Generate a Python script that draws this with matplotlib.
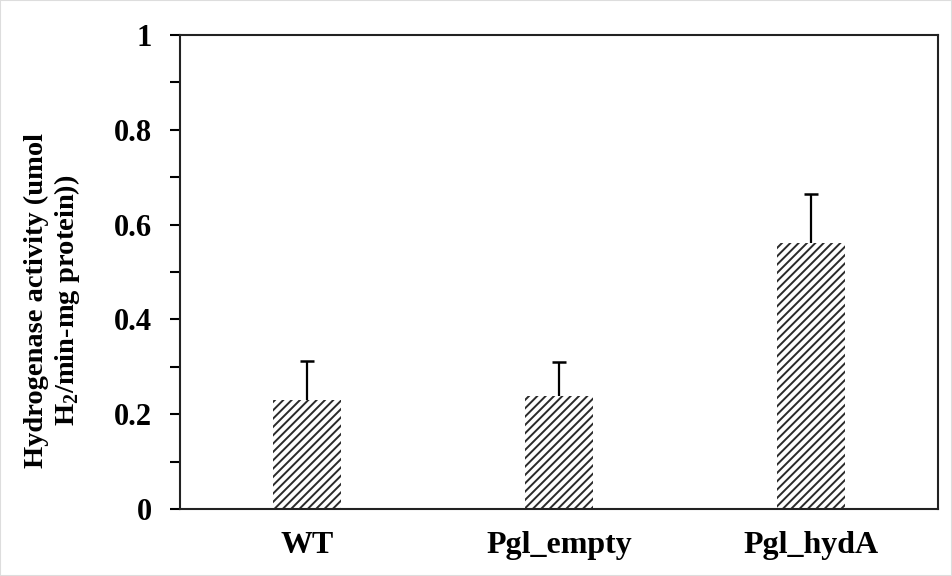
import numpy as np
import matplotlib
matplotlib.use("Agg")
import matplotlib.pyplot as plt
from matplotlib.ticker import MultipleLocator

# Data
groups = ["WT", "Pgl_empty", "Pgl_hydA"]
activity = [0.23, 0.238, 0.562]
err_up = [0.083, 0.073, 0.102]

plt.rcParams['font.family'] = ['Liberation Serif', 'DejaVu Serif']
plt.rcParams['font.weight'] = 'bold'
plt.rcParams['mathtext.fontset'] = 'custom'
plt.rcParams['mathtext.rm'] = 'Liberation Serif'
plt.rcParams['mathtext.bf'] = 'Liberation Serif:bold'
plt.rcParams['hatch.linewidth'] = 1.4

fig = plt.figure(figsize=(9.52, 5.76), dpi=100)
ax = fig.add_axes([0.189, 0.1163, 0.796, 0.8229])

x = np.arange(len(groups))
ax.bar(x, activity, width=0.27, color='white', edgecolor='#2a2a2a',
       linewidth=0, hatch='////')

# upward-only error bars with a cap
tops = np.array(activity) + np.array(err_up)
ax.vlines(x, activity, tops, color='black', linewidth=1.6)
ax.hlines(tops, x - 0.028, x + 0.028, color='black', linewidth=1.8)

ax.set_xlim(-0.504, 2.504)
ax.set_ylim(0, 1)
ax.yaxis.set_minor_locator(MultipleLocator(0.1))
ax.set_yticks([0, 0.2, 0.4, 0.6, 0.8, 1.0])
ax.set_yticklabels(["0", "0.2", "0.4", "0.6", "0.8", "1"])
ax.tick_params(axis='y', which='major', length=7, width=1.5, labelsize=22, pad=13)
ax.tick_params(axis='y', which='minor', length=7, width=1.5)
ax.set_xticks(x)
ax.set_xticklabels(groups)
ax.tick_params(axis='x', length=0, labelsize=23, pad=16)
for lab in ax.get_xticklabels() + ax.get_yticklabels():
    lab.set_fontweight('bold')

for s in ax.spines.values():
    s.set_linewidth(1.5)
    s.set_color('#222222')

fig.text(53 / 952, 1 - 300 / 576,
         "Hydrogenase activity (umol\nH$_\\mathregular{2}$/min-mg protein))",
         rotation=90, ha='center', va='center', fontsize=20.5,
         fontweight='bold', linespacing=1.1)

fig.patches.append(plt.Rectangle((0, 0), 1, 1, transform=fig.transFigure,
                                 fill=False, edgecolor='#dddddd', linewidth=1.5))

fig.savefig("out.png", dpi=100)
